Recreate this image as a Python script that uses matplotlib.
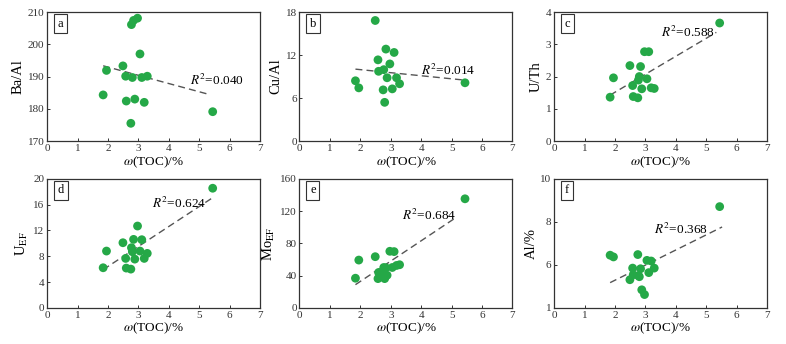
import numpy as np
import matplotlib
matplotlib.use('Agg')
import matplotlib.pyplot as plt

plt.rcParams['font.family'] = ['Liberation Serif', 'DejaVu Serif']
plt.rcParams['mathtext.fontset'] = 'stix'

# TOC values of the 16 samples (same samples in every panel)
toc = [1.84, 1.95, 2.49, 2.58, 2.60, 2.75, 2.77, 2.80, 2.84, 2.88, 2.97, 3.05, 3.11, 3.19, 3.29, 5.44]

ba_al = [184.3, 191.9, 193.3, 190.1, 182.4, 175.5, 206.1, 189.7, 207.4, 183.0, 208.1, 197.0, 189.7, 182.0, 190.1, 179.1]
cu_al = [8.41, 7.42, 16.82, 11.33, 9.73, 7.14, 9.96, 5.40, 12.83, 8.83, 10.76, 7.28, 12.36, 8.83, 7.99, 8.13]
u_th = [1.36, 1.96, 2.34, 1.72, 1.38, 1.34, 1.89, 2.00, 2.31, 1.62, 2.77, 1.93, 2.77, 1.65, 1.63, 3.66]
u_ef = [6.22, 8.81, 10.10, 7.67, 6.17, 6.01, 9.33, 8.70, 10.62, 7.56, 12.69, 8.81, 10.57, 7.67, 8.45, 18.55]
mo_ef = [36.8, 59.3, 63.5, 36.3, 43.9, 44.0, 50.1, 36.3, 49.7, 40.5, 70.2, 50.1, 69.8, 52.6, 53.5, 135.3]
al = [6.45, 6.37, 5.31, 5.85, 5.54, 6.48, 5.50, 5.45, 5.82, 4.84, 4.62, 6.21, 5.64, 6.18, 5.85, 8.71]

panels = ['a', 'b', 'c', 'd', 'e', 'f']
ylabels = ['Ba/Al', 'Cu/Al', 'U/Th', r'U$_{\mathrm{EF}}$', r'Mo$_{\mathrm{EF}}$', 'Al/%']
series = [ba_al, cu_al, u_th, u_ef, mo_ef, al]
r2 = ['0.040', '0.014', '0.588', '0.624', '0.684', '0.368']
ylims = [(170, 210), (0, 18), (0, 4), (0, 20), (0, 160), (4, 10)]
yticks = [[170, 180, 190, 200, 210], [0, 6, 12, 18], [0, 1, 2, 3, 4],
          [0, 4, 8, 12, 16, 20], [0, 40, 80, 120, 160], [4, 6, 8, 10]]
yticklabels = [None, None, None, None, None, ['1', '6', '8', '10']]
# position of the R^2 label in axes fraction
r2_pos = [(0.67, 0.47), (0.57, 0.55), (0.50, 0.84), (0.49, 0.81), (0.48, 0.72), (0.47, 0.61)]
# end of the fitted line on the TOC axis
fit_end = [5.33, 5.44, 5.33, 5.42, 5.12, 5.52]

lefts = [0.060, 0.381, 0.705]
bottoms = [0.590, 0.105]
w, h = 0.271, 0.375

fig = plt.figure(figsize=(7.86, 3.44), dpi=100)
green = '#25a847'

for i in range(6):
    ax = fig.add_axes([lefts[i % 3], bottoms[i // 3], w, h])
    x = np.array(toc)
    y = np.array(series[i])
    ax.scatter(x, y, s=40, color=green, edgecolors='none', zorder=3)

    k, b = np.polyfit(x, y, 1)
    xf = np.array([x.min(), fit_end[i]])
    ax.plot(xf, k * xf + b, color='#555555', lw=1.0, dashes=(5, 3), zorder=2)

    ax.text(r2_pos[i][0], r2_pos[i][1], r'$R^2$=' + r2[i], transform=ax.transAxes,
            fontsize=9.5, ha='left', va='center')
    ax.text(0.05, 0.91, panels[i], transform=ax.transAxes, fontsize=9, ha='left', va='center',
            bbox=dict(boxstyle='square,pad=0.3', fc='white', ec='#333333', lw=0.8))

    ax.set_xlim(0, 7)
    ax.set_xticks(range(8))
    ax.set_ylim(*ylims[i])
    ax.set_yticks(yticks[i])
    if yticklabels[i] is not None:
        ax.set_yticklabels(yticklabels[i])
    ax.set_ylabel(ylabels[i], fontsize=10.5, labelpad=2)
    ax.set_xlabel(r'$\omega$(TOC)/%', fontsize=9.5, labelpad=1)
    ax.tick_params(direction='in', length=2.5, width=0.7, labelsize=8, pad=2, colors='#333333')
    for sp in ax.spines.values():
        sp.set_color('#333333')
        sp.set_linewidth(0.9)

fig.savefig('out.png', dpi=100)
